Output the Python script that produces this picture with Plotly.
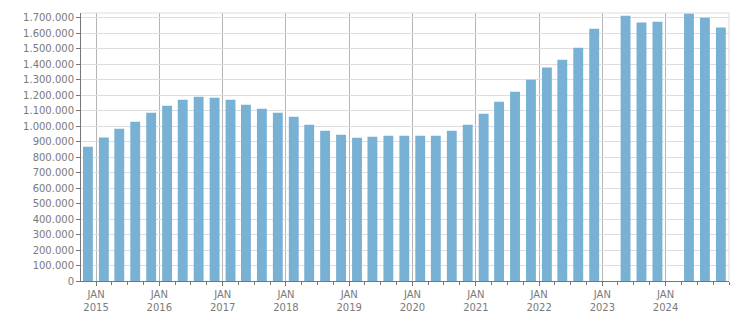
import datetime as dt
import plotly.graph_objects as go

# Quarters (year, quarter) from Q4 2014 to Q4 2024
quarters = [(2014, 4)] + [(y, q) for y in range(2015, 2025) for q in (1, 2, 3, 4)]

values = [
    867000,
    928000, 984000, 1029000, 1087000,
    1133000, 1172000, 1191000, 1184000,
    1172000, 1139000, 1113000, 1087000,
    1061000, 1010000, 971000, 945000,
    926000, 932000, 939000, 939000,
    939000, 939000, 971000, 1010000,
    1081000, 1159000, 1223000, 1301000,
    1379000, 1430000, 1508000, 1631000,
    None, 1715000, 1670000, 1676000,
    None, 1728000, 1702000, 1638000,
]

# mid-quarter dates
x_dates = [dt.date(y, 3 * q - 1, 15) for (y, q) in quarters]

tick_dates = [dt.date(y, 1, 1) for y in range(2015, 2025)]
tick_labels = [f"JAN<br>{y}" for y in range(2015, 2025)]

y_ticks = list(range(0, 1700001, 100000))

font_family = "Tahoma, Verdana, DejaVu Sans, sans-serif"
text_col = "#7a7a7a"

fig = go.Figure(
    go.Bar(
        x=x_dates,
        y=values,
        marker=dict(color="#78b1d3", line=dict(width=0)),
        width=57 * 86400000,
        hoverinfo="x+y",
    )
)

fig.update_layout(
    width=751,
    height=313,
    margin=dict(l=81, r=22, t=13, b=32, autoexpand=False),
    paper_bgcolor="white",
    plot_bgcolor="white",
    separators=",.",
    showlegend=False,
    font=dict(family=font_family, size=10, color=text_col),
    shapes=[
        dict(type="line", xref="paper", yref="paper", x0=0, x1=1, y0=1, y1=1,
             line=dict(color="#dddddd", width=1)),
        dict(type="line", xref="paper", yref="paper", x0=1, x1=1, y0=0, y1=1,
             line=dict(color="#dddddd", width=1)),
    ],
)

fig.update_xaxes(
    type="date",
    range=["2014-10-06", "2025-01-01"],
    tickmode="array",
    tickvals=tick_dates,
    ticktext=tick_labels,
    showgrid=True,
    gridcolor="#b4b4b4",
    gridwidth=1,
    showline=True,
    linecolor="#777777",
    linewidth=1,
    ticks="outside",
    ticklen=4,
    tickcolor="#777777",
    tickfont=dict(family=font_family, size=10, color=text_col),
    minor=dict(dtick="M3", tick0="2015-01-01", ticks="outside", ticklen=3,
               tickcolor="#777777", showgrid=False),
    zeroline=False,
    automargin=False,
    fixedrange=True,
)

fig.update_yaxes(
    range=[0, 1732000],
    tickmode="array",
    tickvals=y_ticks,
    tickformat=",d",
    showgrid=True,
    gridcolor="#dddddd",
    gridwidth=1,
    showline=True,
    linecolor="#777777",
    linewidth=1,
    ticks="outside",
    ticklen=4,
    tickcolor="#777777",
    tickfont=dict(family=font_family, size=10, color=text_col),
    zeroline=False,
    automargin=False,
    fixedrange=True,
)

fig.write_html("out.html")
